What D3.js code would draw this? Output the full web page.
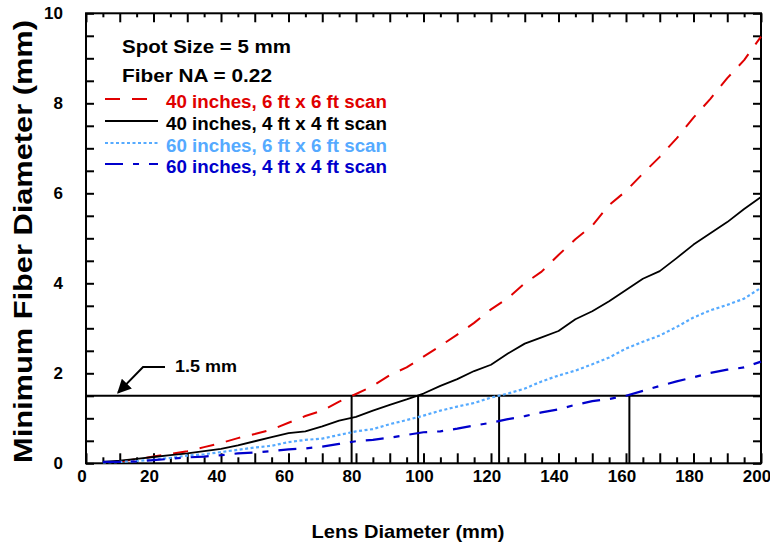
<!DOCTYPE html>
<html>
<head>
<meta charset="utf-8">
<script src="https://cdn.jsdelivr.net/npm/d3@7"></script>
<style>
  html, body { margin: 0; padding: 0; background: #ffffff; }
  svg text { font-family: "Liberation Sans", Arial, Helvetica, sans-serif; font-weight: bold; }
</style>
</head>
<body>
<svg id="chart" width="770" height="545"></svg>
<script>
// ---------------- data ----------------
const lensDiameter = [5,10,15,20,25,30,35,40,45,50,55,60,65,70,75,80,85,90,95,100,
                      105,110,115,120,125,130,135,140,145,150,155,160,165,170,175,180,185,190,195,200];
const red40in6ft = [null,0.04,0.09,0.15,0.21,0.27,0.36,0.45,0.56,0.65,0.75,0.90,1.05,1.17,1.37,1.54,1.72,1.96,2.13,2.37,
                    2.61,2.86,3.12,3.42,3.67,4.00,4.26,4.63,4.98,5.28,5.74,6.05,6.44,6.81,7.22,7.68,8.10,8.56,8.96,9.48];
const black40in4ft = [0.03,0.06,0.10,0.14,0.18,0.22,0.27,0.32,0.40,0.49,0.58,0.67,0.71,0.82,0.95,1.03,1.17,1.30,1.42,1.55,
                      1.72,1.87,2.05,2.19,2.44,2.66,2.80,2.94,3.20,3.38,3.60,3.85,4.10,4.27,4.56,4.86,5.11,5.36,5.65,5.92];
const lightBlue60in6ft = [0.02,0.03,0.05,0.08,0.12,0.17,0.20,0.25,0.30,0.35,0.39,0.47,0.52,0.55,0.63,0.71,0.76,0.87,0.96,1.06,
                          1.17,1.26,1.34,1.46,1.55,1.66,1.82,1.95,2.06,2.20,2.35,2.55,2.70,2.84,3.03,3.24,3.40,3.52,3.66,3.90];
const blue60in4ft = [0.03,0.03,0.04,0.07,0.10,0.13,0.15,0.18,0.22,0.24,0.27,0.31,0.33,0.37,0.43,0.49,0.52,0.57,0.63,0.69,
                     0.71,0.77,0.84,0.90,0.98,1.05,1.13,1.20,1.30,1.38,1.43,1.50,1.61,1.72,1.82,1.91,2.01,2.08,2.13,2.26];
const seriesNames = ["40 inches, 6 ft x 6 ft scan","40 inches, 4 ft x 4 ft scan","60 inches, 6 ft x 6 ft scan","60 inches, 4 ft x 4 ft scan"];
const xTickLabels = [0,20,40,60,80,100,120,140,160,180,200];
const yTickLabels = [0,2,4,6,8,10];
const threshold = 1.5;
const crossings = [78.7, 98.4, 122.4, 161.0];
const infoLines = ["Spot Size = 5 mm", "Fiber NA = 0.22"];

// ---------------- layout ----------------
const svg = d3.select("#chart");
const L = 86, R = 761, T = 13.3, B = 463.3;
const x = d3.scaleLinear().domain([0,200]).range([L,R]);
const y = d3.scaleLinear().domain([0,10]).range([B,T]);

const styles = [
  {color:"#e00000", dash:"15,12", width:2},
  {color:"#000000", dash:null, width:1.8},
  {color:"#55aaff", dash:"3,2.5", width:2.2},
  {color:"#0000cc", dash:"18,10,6,10", width:2.2}
];
const allSeries = [red40in6ft, black40in4ft, lightBlue60in6ft, blue60in4ft];

// ---------------- axes ----------------
const minorX = d3.range(0, 201, 5);
const minorY = d3.range(0, 10.001, 0.5);

const gB = svg.append("g").attr("transform", `translate(0,${B})`)
  .call(d3.axisBottom(x).tickValues(minorX).tickSize(-10).tickPadding(7)
    .tickFormat(d => xTickLabels.includes(d) ? d : ""));
gB.selectAll(".tick line").attr("y2", d => d % 10 === 0 ? -10 : -6);
gB.selectAll(".tick text").attr("dx", -4.5).style("font-size", "17px");

const gT = svg.append("g").attr("transform", `translate(0,${T})`)
  .call(d3.axisTop(x).tickValues(minorX).tickSize(-9).tickFormat(""));
gT.selectAll(".tick line").attr("y2", d => d % 10 === 0 ? 9 : 4);

const gLft = svg.append("g").attr("transform", `translate(${L},0)`)
  .call(d3.axisLeft(y).tickValues(minorY).tickSize(-8).tickPadding(23)
    .tickFormat(d => yTickLabels.includes(d) ? d : ""));
gLft.selectAll(".tick text").style("font-size", "17px");

const gRt = svg.append("g").attr("transform", `translate(${R},0)`)
  .call(d3.axisRight(y).tickValues(minorY).tickSize(-8).tickFormat(""));

[gB, gT, gLft, gRt].forEach(g => {
  g.select(".domain").remove();
  g.selectAll(".tick line").attr("stroke", "#000").attr("stroke-width", 2);
  g.selectAll(".tick text").attr("fill", "#000");
});

svg.append("rect").attr("x", L).attr("y", T).attr("width", R - L).attr("height", B - T)
  .attr("fill", "none").attr("stroke", "#000").attr("stroke-width", 2);

// ---------------- threshold lines ----------------
svg.append("line").attr("x1", x(0)).attr("x2", x(200)).attr("y1", y(threshold)).attr("y2", y(threshold))
  .attr("stroke", "#000").attr("stroke-width", 2);
svg.selectAll(".vline").data(crossings).enter().append("line")
  .attr("x1", d => x(d)).attr("x2", d => x(d)).attr("y1", y(0)).attr("y2", y(threshold))
  .attr("stroke", "#000").attr("stroke-width", 2);

// ---------------- curves ----------------
const line = d3.line().defined(d => d[1] !== null).x(d => x(d[0])).y(d => y(d[1]));
allSeries.forEach((vals, i) => {
  const pts = lensDiameter.map((lx, j) => [lx, vals[j]]);
  svg.append("path").datum(pts).attr("d", line)
    .attr("fill", "none").attr("stroke", styles[i].color).attr("stroke-width", styles[i].width)
    .attr("stroke-dasharray", styles[i].dash).attr("stroke-linejoin", "round");
});

// ---------------- annotation ----------------
const defs = svg.append("defs");
defs.append("marker").attr("id", "arrow").attr("viewBox", "0 0 10 10").attr("refX", 9).attr("refY", 5)
  .attr("markerWidth", 14).attr("markerHeight", 14).attr("markerUnits", "userSpaceOnUse").attr("orient", "auto")
  .append("path").attr("d", "M0,0 L10,5 L0,10 Z").attr("fill", "#000");
const arrowPts = [[23.4, 2.14], [16.9, 2.14], [9.5, 1.57]];
svg.append("path").attr("d", d3.line().x(d => x(d[0])).y(d => y(d[1]))(arrowPts))
  .attr("fill", "none").attr("stroke", "#000").attr("stroke-width", 2).attr("marker-end", "url(#arrow)");
svg.append("text").attr("x", x(26.4)).attr("y", y(2.03)).text("1.5 mm")
  .style("font-size", "17px").attr("textLength", 62).attr("lengthAdjust", "spacingAndGlyphs");

// ---------------- info + legend ----------------
svg.append("text").attr("x", 122).attr("y", 53).text(infoLines[0]).style("font-size", "19px")
  .attr("textLength", 169).attr("lengthAdjust", "spacingAndGlyphs");
svg.append("text").attr("x", 122).attr("y", 82).text(infoLines[1]).style("font-size", "19px")
  .attr("textLength", 150).attr("lengthAdjust", "spacingAndGlyphs");

const legBase = [108, 130, 152, 173];
seriesNames.forEach((name, i) => {
  svg.append("line").attr("x1", 105).attr("x2", 158).attr("y1", legBase[i] - 9).attr("y2", legBase[i] - 9)
    .attr("stroke", styles[i].color).attr("stroke-width", styles[i].width).attr("stroke-dasharray", styles[i].dash);
  svg.append("text").attr("x", 166).attr("y", legBase[i]).text(name).attr("fill", styles[i].color)
    .style("font-size", "18px").attr("textLength", 221).attr("lengthAdjust", "spacingAndGlyphs");
});

// ---------------- axis titles ----------------
svg.append("text").attr("x", 408).attr("y", 538).attr("text-anchor", "middle").text("Lens Diameter (mm)")
  .style("font-size", "19px").attr("textLength", 193).attr("lengthAdjust", "spacingAndGlyphs");
svg.append("text").attr("transform", "translate(32,241.5) rotate(-90)").attr("text-anchor", "middle")
  .text("Minimum Fiber Diameter (mm)").style("font-size", "26px")
  .attr("textLength", 443).attr("lengthAdjust", "spacingAndGlyphs");
</script>
</body>
</html>
